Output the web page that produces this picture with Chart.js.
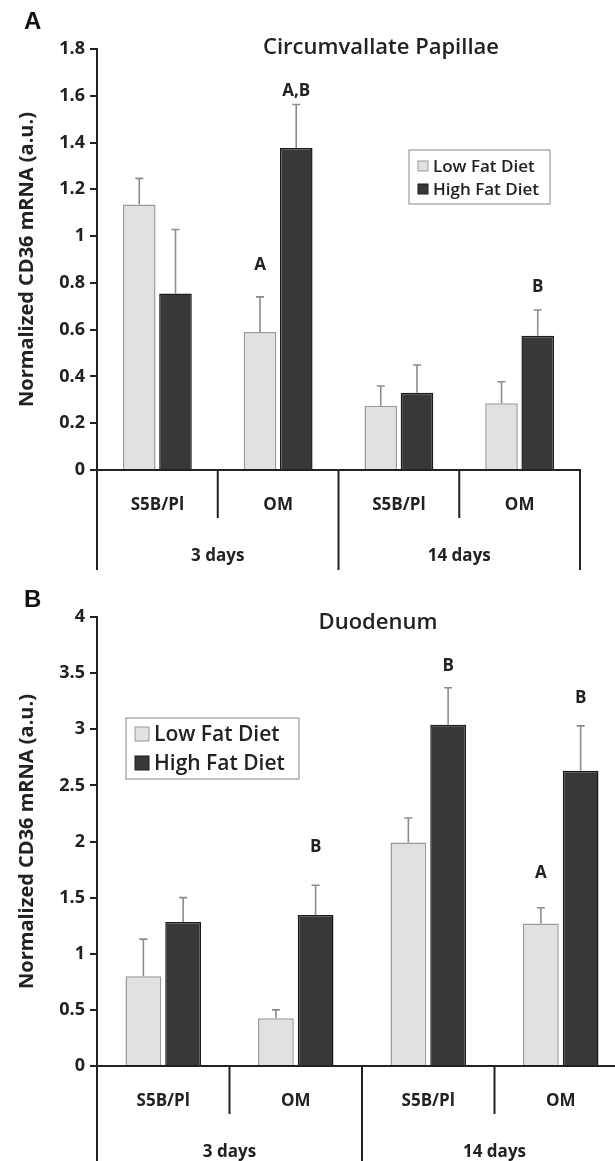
<!DOCTYPE html>
<html>
<head>
<meta charset="utf-8">
<script src="https://cdn.jsdelivr.net/npm/chart.js@4.4.1/dist/chart.umd.min.js"></script>
<style>
  html, body { margin: 0; padding: 0; background: #fff; overflow: hidden; }
  #wrap { position: relative; width: 615px; height: 1161px; overflow: hidden; }
  canvas { position: absolute; left: 0; }
  .letter { position: absolute; left: 24px; font: bold 24px "Liberation Sans", Arial, sans-serif; color: #111; }
</style>
</head>
<body>
<div id="wrap">
  <canvas id="chartA" width="615" height="580" style="top:0"></canvas>
  <canvas id="chartB" width="640" height="581" style="top:580px"></canvas>
  <div class="letter" style="top:7px">A</div>
  <div class="letter" style="top:585px">B</div>
</div>
<script>
// categories
const sites = ['S5B/Pl', 'OM', 'S5B/Pl', 'OM'];
const periods = ['3 days', '14 days'];
const diets = ['Low Fat Diet', 'High Fat Diet'];

// A: circumvallate papillae
const papLow = [1.135, 0.59, 0.275, 0.285];
const papLowSem = [0.112, 0.15, 0.084, 0.092];
const papHigh = [0.755, 1.377, 0.33, 0.574];
const papHighSem = [0.273, 0.186, 0.119, 0.11];
const papLowSig = ['', 'A', '', ''];
const papHighSig = ['', 'A,B', '', 'B'];
const papLowSigAt = [null, 0.876, null, null];
const papHighSigAt = [null, 1.62, null, 0.78];

// B: duodenum
const duoLow = [0.80, 0.425, 1.99, 1.27];
const duoLowSem = [0.33, 0.075, 0.22, 0.14];
const duoHigh = [1.283, 1.345, 3.04, 2.63];
const duoHighSem = [0.217, 0.265, 0.33, 0.40];
const duoLowSig = ['', '', '', 'A'];
const duoHighSig = ['', 'B', 'B', 'B'];
const duoLowSigAt = [null, null, null, 1.72];
const duoHighSigAt = [null, 1.95, 3.56, 3.28];

const FONT = '"Open Sans", "Liberation Sans", sans-serif';
const INK = '#222';

function fmt(v) { return String(+Number(v).toFixed(1)); }

// error bars, letters, two-row x axis, boxed legend
function extras(o) {
  return {
    id: 'extras',
    afterDatasetsDraw(chart) {
      const ctx = chart.ctx, ys = chart.scales.y;
      ctx.save();
      chart.data.datasets.forEach((ds, di) => {
        chart.getDatasetMeta(di).data.forEach((bar, i) => {
          const top = ys.getPixelForValue(ds.data[i] + o.sem[di][i]);
          ctx.strokeStyle = '#8c8c8c';
          ctx.lineWidth = 1.6;
          ctx.beginPath();
          ctx.moveTo(bar.x, bar.y);
          ctx.lineTo(bar.x, top);
          ctx.moveTo(bar.x - 4, top);
          ctx.lineTo(bar.x + 4, top);
          ctx.stroke();
          if (o.sig[di][i]) {
            ctx.fillStyle = INK;
            ctx.font = 'bold 17px ' + FONT;
            ctx.textAlign = 'center';
            ctx.textBaseline = 'middle';
            ctx.fillText(o.sig[di][i], bar.x, ys.getPixelForValue(o.sigAt[di][i]));
          }
        });
      });
      ctx.restore();
    },
    afterDraw(chart) {
      const ctx = chart.ctx, xs = chart.scales.x, ys = chart.scales.y;
      const n = sites.length, w = (xs.right - xs.left) / n, y0 = ys.bottom;
      ctx.save();
      ctx.strokeStyle = INK;
      ctx.lineWidth = 2;
      ctx.beginPath();
      for (let k = 0; k <= n; k++) {
        const bx = xs.left + k * w;
        ctx.moveTo(bx, y0);
        ctx.lineTo(bx, y0 + (k % 2 === 0 ? 100 : 48));
      }
      ctx.stroke();
      ctx.fillStyle = INK;
      ctx.font = 'bold 17px ' + FONT;
      ctx.textAlign = 'center';
      ctx.textBaseline = 'middle';
      sites.forEach((s, i) => ctx.fillText(s, xs.left + (i + 0.5) * w, y0 + 35));
      periods.forEach((p, i) => ctx.fillText(p, xs.left + (i + 0.5) * 2 * w, y0 + 86));

      // title
      ctx.font = '600 ' + o.title.size + 'px ' + FONT;
      ctx.fillText(o.title.text, o.title.x, o.title.y);

      // legend
      const L = o.legend;
      ctx.lineWidth = 1.2;
      ctx.strokeStyle = '#9a9a9a';
      ctx.strokeRect(L.x, L.y, L.w, L.h);
      ctx.font = '600 ' + L.size + 'px ' + FONT;
      ctx.textAlign = 'left';
      chart.data.datasets.forEach((ds, di) => {
        const cy = L.y + L.row0 + di * L.gap;
        ctx.fillStyle = ds.backgroundColor;
        ctx.fillRect(L.x + 9, cy - L.box / 2, L.box, L.box);
        ctx.strokeStyle = ds.borderColor;
        ctx.lineWidth = 1;
        ctx.strokeRect(L.x + 9, cy - L.box / 2, L.box, L.box);
        ctx.fillStyle = INK;
        ctx.fillText(ds.label, L.x + 14 + L.box, cy + 1);
      });
      ctx.restore();
    }
  };
}

function makeChart(id, low, high, yMax, step, pad, o) {
  return new Chart(document.getElementById(id), {
    type: 'bar',
    data: {
      labels: sites,
      datasets: [
        { label: diets[0], data: low, backgroundColor: '#e1e1e1', borderColor: '#9a9a9a', borderWidth: 1.5 },
        { label: diets[1], data: high, backgroundColor: '#383838', borderColor: '#1c1c1c', borderWidth: 1.5 }
      ]
    },
    options: {
      responsive: false,
      animation: false,
      layout: { padding: pad },
      categoryPercentage: 0.6,
      barPercentage: 0.9,
      plugins: { legend: { display: false }, tooltip: { enabled: false } },
      scales: {
        x: {
          grid: { display: true, drawOnChartArea: false, drawTicks: false },
          ticks: { display: false },
          border: { color: INK, width: 2 },
          afterFit(s) { s.height = 0; }
        },
        y: {
          min: 0, max: yMax,
          ticks: { stepSize: step, color: INK, padding: 5, font: { family: FONT, size: 18, weight: 'bold' }, callback: fmt },
          grid: { drawOnChartArea: false, drawTicks: true, tickLength: 7, color: INK, lineWidth: 2 },
          border: { color: INK, width: 2 },
          title: { display: true, text: 'Normalized CD36 mRNA (a.u.)', color: INK, padding: { top: 15 }, font: { family: FONT, size: 20, weight: 'bold' } },
          afterFit(s) { s.width = 97; }
        }
      }
    },
    plugins: [extras(o)]
  });
}

makeChart('chartA', papLow, papHigh, 1.8, 0.2,
  { left: 0, top: 49, right: 35, bottom: 110 }, {
    sem: [papLowSem, papHighSem], sig: [papLowSig, papHighSig], sigAt: [papLowSigAt, papHighSigAt],
    title: { text: 'Circumvallate Papillae', x: 381, y: 48, size: 22 },
    legend: { x: 409, y: 150, w: 141, h: 54, size: 17, box: 10, row0: 16, gap: 23 }
  });

makeChart('chartB', duoLow, duoHigh, 4, 0.5,
  { left: 0, top: 37, right: 13, bottom: 95 }, {
    sem: [duoLowSem, duoHighSem], sig: [duoLowSig, duoHighSig], sigAt: [duoLowSigAt, duoHighSigAt],
    title: { text: 'Duodenum', x: 378, y: 43, size: 22 },
    legend: { x: 126, y: 138, w: 173, h: 61, size: 21, box: 14, row0: 16, gap: 29 }
  });
</script>
</body>
</html>
